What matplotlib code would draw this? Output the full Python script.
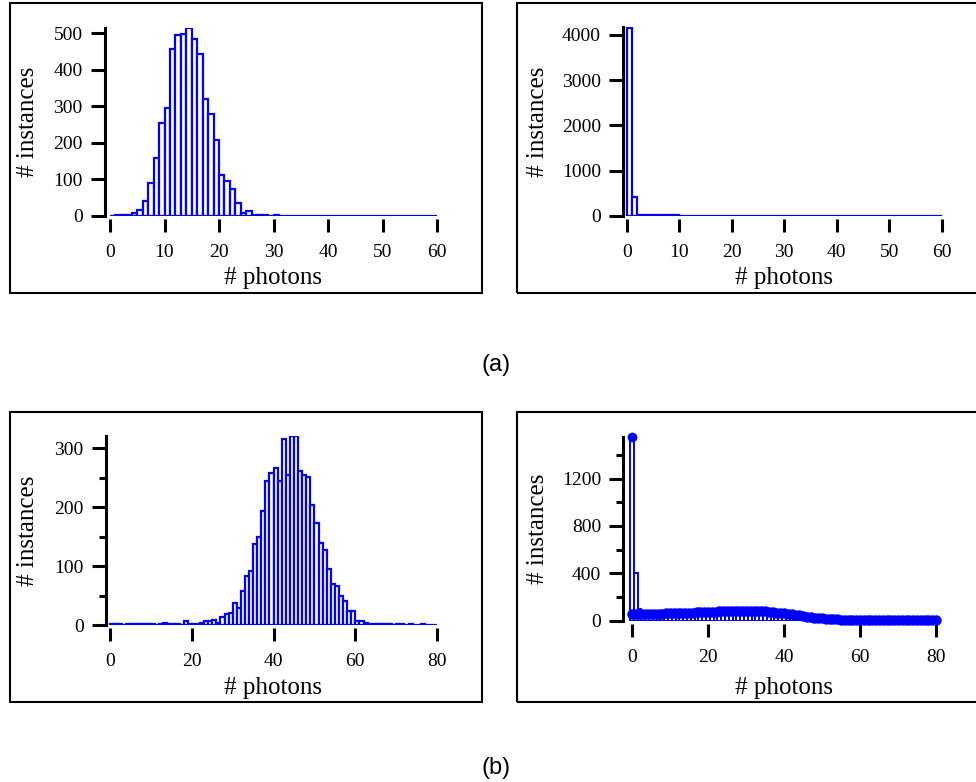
import numpy as np
import matplotlib
matplotlib.use('Agg')
import matplotlib.pyplot as plt
from matplotlib.patches import Rectangle
from matplotlib.ticker import MultipleLocator

# histogram counts, one value per 1-photon bin
hist_a1 = [1, 2, 2, 3, 7, 16, 41, 89, 158, 255,
           295, 457, 494, 497, 513, 485, 442, 321, 280, 207,
           112, 96, 74, 36, 9, 15, 3, 2, 2, 1,
           2, 1, 1, 1, 0, 1, 1, 0, 1, 1,
           0, 1, 0, 1, 1, 0, 0, 1, 0, 1,
           0, 0, 1, 0, 0, 1, 0, 0, 1, 0]
hist_a2 = [4146, 427, 30, 18, 16, 15, 14, 13, 12, 12,
           11, 10, 10, 9, 9, 8, 8, 7, 7, 6,
           6, 6, 5, 5, 5, 4, 4, 4, 4, 3,
           3, 3, 3, 3, 2, 2, 2, 2, 2, 2,
           2, 1, 1, 1, 1, 1, 1, 1, 1, 1,
           1, 1, 1, 1, 1, 1, 1, 1, 1, 1]
hist_b1 = [2, 1, 1, 0, 1, 1, 2, 1, 2, 1,
           1, 0, 2, 3, 2, 1, 1, 0, 7, 1,
           1, 2, 3, 7, 6, 9, 3, 13, 18, 21,
           37, 29, 58, 84, 92, 137, 150, 193, 245, 258,
           267, 245, 316, 254, 321, 321, 261, 254, 251, 204,
           174, 139, 127, 95, 70, 67, 49, 41, 24, 23,
           7, 7, 3, 2, 2, 1, 1, 1, 1, 0,
           1, 1, 0, 1, 0, 0, 1, 0, 0, 0]
hist_b2 = [1550, 400, 100, 62, 58, 57, 58, 59, 60, 61,
           62, 63, 64, 66, 67, 68, 70, 71, 72, 74,
           75, 76, 77, 78, 80, 81, 82, 82, 83, 84,
           84, 84, 83, 82, 80, 78, 75, 72, 69, 65,
           61, 57, 52, 48, 43, 39, 35, 31, 27, 24,
           21, 18, 16, 14, 12, 10, 9, 8, 7, 6,
           6, 5, 5, 5, 4, 4, 4, 4, 4, 4,
           3, 3, 3, 3, 3, 3, 3, 3, 3, 3, 3]
fit_b2 = [55, 56, 57, 57, 58, 58, 59, 59, 60, 61,
          62, 63, 64, 65, 67, 68, 69, 71, 72, 73,
          75, 76, 77, 78, 79, 80, 81, 82, 83, 83,
          84, 84, 83, 82, 80, 78, 75, 72, 69, 65,
          61, 57, 53, 48, 44, 39, 35, 31, 27, 24,
          21, 18, 16, 14, 12, 10, 9, 8, 7, 6,
          6, 5, 5, 5, 4, 4, 4, 4, 4, 4,
          3, 3, 3, 3, 3, 3, 3, 3, 3, 3, 3]

W, H = 976, 782
serif = 'Liberation Serif'
blue = '#0000ff'

fig = plt.figure(figsize=(W / 100, H / 100), dpi=100)


def add_ax(x0, y0, x1, y1):
    # pixel box (from top-left) -> figure fraction
    return fig.add_axes([x0 / W, 1 - y1 / H, (x1 - x0) / W, (y1 - y0) / H])


def style(ax, xmaj, ymaj, ymin=None):
    for s in ['top', 'right']:
        ax.spines[s].set_visible(False)
    ax.spines['bottom'].set_visible(False)
    ax.spines['bottom'].set_position(('outward', 2.5))
    ax.spines['left'].set_linewidth(2.2)
    ax.xaxis.set_major_locator(MultipleLocator(xmaj))
    ax.yaxis.set_major_locator(MultipleLocator(ymaj))
    if ymin:
        ax.yaxis.set_minor_locator(MultipleLocator(ymin))
    ax.tick_params(axis='y', which='major', length=10, width=2.2, pad=6,
                   labelsize=14)
    ax.tick_params(axis='y', which='minor', length=5, width=2.2)
    ax.tick_params(axis='x', which='major', length=9.5, width=2.2, pad=8.5,
                   labelsize=14)
    for lab in ax.get_xticklabels() + ax.get_yticklabels():
        lab.set_fontfamily(serif)


def labels(ax, ylab_x):
    bb = ax.get_position()
    yc = (bb.y0 + bb.y1) / 2
    fig.text(ylab_x / W, yc, '# instances', rotation=90, ha='center',
             va='center', family=serif, fontsize=18)


# (a) left
ax = add_ax(105, 28, 440, 216)
ax.bar(np.arange(len(hist_a1)), hist_a1, width=1, align='edge',
       facecolor='white', edgecolor=blue, linewidth=1.6)
ax.set_xlim(-0.92, 60.55)
ax.set_ylim(0, 514)
style(ax, 10, 100)
labels(ax, 28)
fig.text(273.5 / W, 1 - 278 / H, '# photons', ha='center', va='center',
         family=serif, fontsize=18)

# (a) right
ax = add_ax(623.3, 26.7, 944, 216)
ax.bar(np.arange(len(hist_a2)), hist_a2, width=1, align='edge',
       facecolor='white', edgecolor=blue, linewidth=1.6)
ax.set_xlim(-0.65, 60.4)
ax.set_ylim(0, 4183)
style(ax, 10, 1000)
labels(ax, 538)
fig.text(784 / W, 1 - 278 / H, '# photons', ha='center', va='center',
         family=serif, fontsize=18)

# (b) left
ax = add_ax(106, 436, 440, 625)
ax.bar(np.arange(len(hist_b1)), hist_b1, width=1, align='edge',
       facecolor='white', edgecolor=blue, linewidth=1.6)
ax.set_xlim(-0.98, 80.7)
ax.set_ylim(0, 321)
style(ax, 20, 100, 50)
labels(ax, 28)
fig.text(273.5 / W, 1 - 688 / H, '# photons', ha='center', va='center',
         family=serif, fontsize=18)

# (b) right
ax = add_ax(623.3, 436.5, 939, 620.7)
xs = np.arange(len(hist_b2))
ax.bar(xs, hist_b2, width=1, align='center',
       facecolor='white', edgecolor=blue, linewidth=1.4)
ax.plot(xs[:1], hist_b2[:1], 'o', color=blue, markersize=6, clip_on=False)
ax.plot(np.arange(len(fit_b2)), fit_b2, 'o-', color=blue, markersize=6.5,
        linewidth=1.5, clip_on=False)
ax.set_xlim(-2.29, 80.8)
ax.set_ylim(0, 1555)
style(ax, 20, 400, 200)
labels(ax, 538)
fig.text(784 / W, 1 - 688 / H, '# photons', ha='center', va='center',
         family=serif, fontsize=18)

# panel frames
for (x0, y0, x1, y1) in [(10, 3, 482, 293), (517, 3, 990, 293),
                         (10, 412, 482, 702), (517, 412, 990, 702)]:
    fig.patches.append(Rectangle((x0 / W, 1 - y1 / H), (x1 - x0) / W,
                                 (y1 - y0) / H, transform=fig.transFigure,
                                 fill=False, edgecolor='black', linewidth=1.5))

fig.text(496 / W, 1 - 365 / H, '(a)', ha='center', va='center',
         family='Liberation Sans', fontsize=17)
fig.text(496 / W, 1 - 768 / H, '(b)', ha='center', va='center',
         family='Liberation Sans', fontsize=17)

fig.savefig('out.png', dpi=100)
